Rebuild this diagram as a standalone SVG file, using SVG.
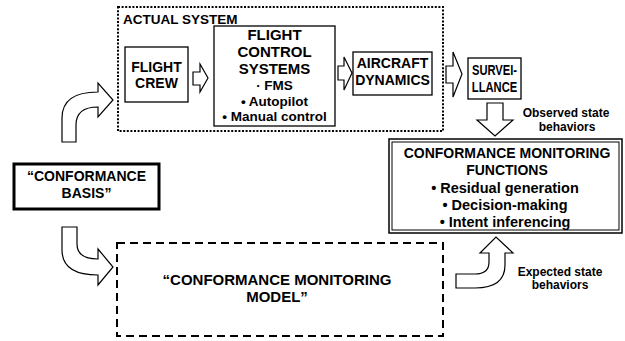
<svg xmlns="http://www.w3.org/2000/svg" width="625" height="341" viewBox="0 0 625 341">
<style>
text{font-family:"Liberation Sans",Arial,sans-serif;font-weight:bold;fill:#000;text-anchor:middle}
.h{font-size:14px}
.f{font-size:15px}
.b{font-size:13.5px}
.s{font-size:12px}
.box{fill:#fff;stroke:#000;stroke-width:1.3}
.arr{fill:#fff;stroke:#000;stroke-width:1.2;stroke-linejoin:miter}
</style>
<rect width="625" height="341" fill="#fff"/>
<g id="actual-system">
<rect x="118" y="7" width="325" height="124" fill="none" stroke="#000" stroke-width="2" stroke-dasharray="2,1.6"/>
<text x="123" y="24" style="font-size:13.5px;text-anchor:start">ACTUAL SYSTEM</text>
</g>
<g id="flight-crew">
<rect class="box" x="125" y="47" width="63" height="55"/>
<text class="h" x="156.5" y="72">FLIGHT</text>
<text class="h" x="156.5" y="88">CREW</text>
</g>
<g id="fcs">
<rect class="box" x="214" y="26" width="121" height="100"/>
<text class="f" x="274.5" y="40">FLIGHT</text>
<text class="f" x="274.5" y="57">CONTROL</text>
<text class="f" x="274.5" y="74">SYSTEMS</text>
<text class="b" x="274.5" y="90">· FMS</text>
<text class="b" x="274.5" y="106">• Autopilot</text>
<text class="b" x="274.5" y="121">• Manual control</text>
</g>
<g id="aircraft-dynamics">
<rect class="box" x="353" y="52" width="79" height="43"/>
<text class="h" x="392.5" y="68">AIRCRAFT</text>
<text class="h" x="392.5" y="85">DYNAMICS</text>
</g>
<g id="surveillance">
<rect class="box" x="468" y="58" width="53" height="41"/>
<text class="h" transform="translate(494.5 75) scale(0.8 1)">SURVEI-</text>
<text class="h" transform="translate(494.5 92) scale(0.8 1)">LLANCE</text>
</g>
<g id="conformance-basis">
<rect x="14" y="164" width="145" height="45" fill="#fff" stroke="#000" stroke-width="3"/>
<text class="h" x="86.5" y="181">“CONFORMANCE</text>
<text class="h" x="86.5" y="198">BASIS”</text>
</g>
<g id="cm-functions">
<rect x="389" y="139" width="233" height="94" fill="#fff" stroke="#000" stroke-width="1.5"/>
<rect x="392" y="142" width="227" height="88" fill="none" stroke="#000" stroke-width="1"/>
<text class="h" x="507" y="158">CONFORMANCE MONITORING</text>
<text class="h" x="507" y="175">FUNCTIONS</text>
<text x="505" y="193" style="font-size:14.5px">• Residual generation</text>
<text x="505" y="210" style="font-size:14.5px">• Decision-making</text>
<text x="505" y="227" style="font-size:14.5px">• Intent inferencing</text>
</g>
<g id="cm-model">
<rect x="117" y="243" width="326" height="93" fill="none" stroke="#000" stroke-width="2" stroke-dasharray="8,5"/>
<text x="277" y="285" style="font-size:15px">“CONFORMANCE MONITORING</text>
<text x="277" y="302" style="font-size:15px">MODEL”</text>
</g>
<g id="connectors">
<path class="arr" d="M193 72 H200 V64 L208 78 L200 92 V85 H193 Z"/>
<path class="arr" d="M338 66 H344 V57 L352 73 L344 90 V80 H338 Z"/>
<path class="arr" d="M446 66 H453 V52 L462 74 L453 97 V83 H446 Z"/>
<path class="arr" d="M487 103 H503 V120 H513 L495 136 L477 120 H487 Z"/>
<path class="arr" d="M62 142 V118 C62 100 75 92 98 92 V83 L113 100 L98 117 V107 C85 107 76 112 76 125 V142 Z"/>
<path class="arr" d="M62 227 V250 C62 268 75 275 98 275 V285 L113 267 L98 249 V259 C85 259 77 255 77 244 V227 Z"/>
<path class="arr" d="M456 288 H475 C495 288 505 280 505 265 V253 H513 L496 237 L480 253 H489 V262 C489 270 484 274 475 274 H456 Z"/>
<text class="s" x="566" y="117">Observed state</text>
<text class="s" x="567" y="131">behaviors</text>
<text class="s" x="560" y="276">Expected state</text>
<text class="s" x="560" y="289">behaviors</text>
</g>
</svg>
